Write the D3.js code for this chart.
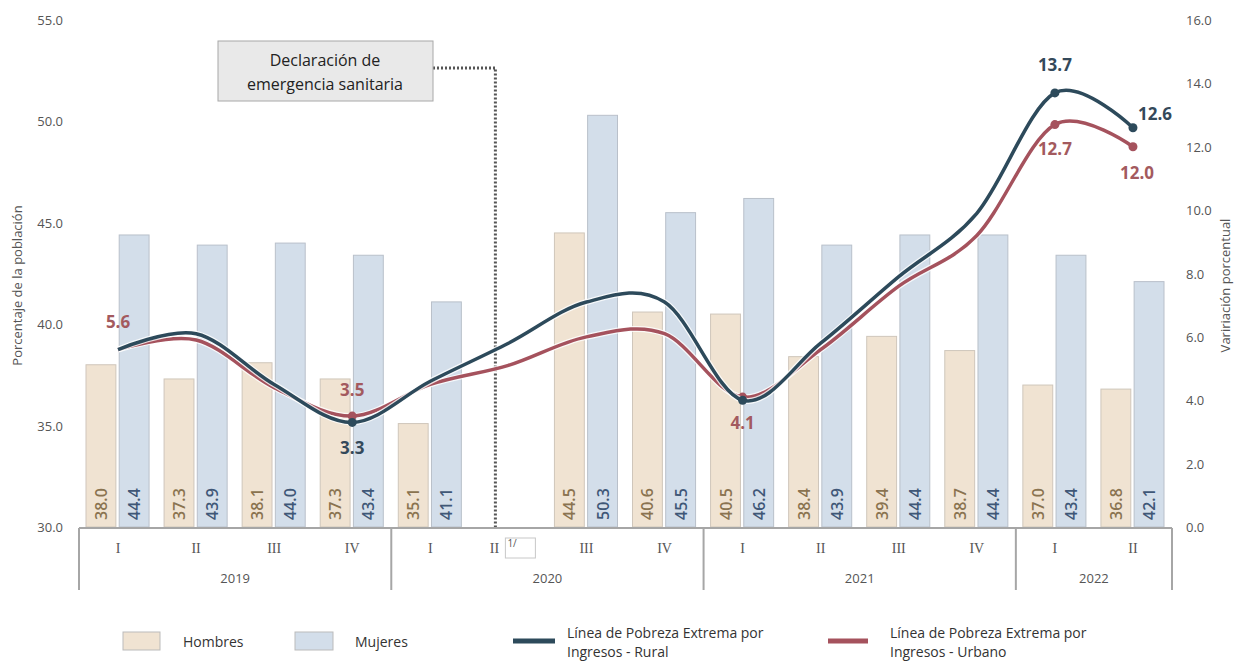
<!DOCTYPE html>
<html><head><meta charset="utf-8">
<script src="https://cdn.jsdelivr.net/npm/d3@7"></script>
<style>
body{margin:0;background:#fff;}
svg{display:block;font-family:"Open Sans","Noto Sans",sans-serif;}
</style></head>
<body>
<svg id="c" width="1244" height="662"></svg>
<script>
const quarters = ["I","II","III","IV","I","II","III","IV","I","II","III","IV","I","II"];
const years = ["2019","2020","2021","2022"];
const yearCounts = [4,4,4,2];
const hombres = [38.0,37.3,38.1,37.3,35.1,null,44.5,40.6,40.5,38.4,39.4,38.7,37.0,36.8];
const mujeres = [44.4,43.9,44.0,43.4,41.1,null,50.3,45.5,46.2,43.9,44.4,44.4,43.4,42.1];
const rural = [5.6,6.1,4.5,3.3,4.6,5.8,7.1,7.1,4.0,5.8,7.9,9.9,13.7,12.6];
const urbano = [5.6,5.9,4.4,3.5,4.5,5.1,6.0,6.1,4.1,5.6,7.6,9.2,12.7,12.0];
const leftTicks = [30,35,40,45,50,55];
const rightTicks = [0,2,4,6,8,10,12,14,16];
// labelled points: [series, index, text, dx, dy]
const lineLabels = [
  ["u",0,"5.6",0,-22],["u",3,"3.5",0,-20],["r",3,"3.3",0,32],["u",8,"4.1",0,32],
  ["r",12,"13.7",0,-22],["u",12,"12.7",0,30],["r",13,"12.6",22,-8],["u",13,"12.0",4,32]
];
const markerIdx = [3,8,12,13];

const svg = d3.select("#c");
const x0=79,x1=1172,yTop=20,yBot=527;
const idx = d3.range(quarters.length);
const x = d3.scaleBand().domain(idx).range([x0,x1]).padding(0);
const xs = d3.scaleBand().domain(["h","m"]).range([7,x.bandwidth()-8]).paddingInner(0.1);
const yL = d3.scaleLinear().domain([30,55]).range([yBot,yTop]);
const yR = d3.scaleLinear().domain([0,16]).range([yBot,yTop]);
const cx = i => x(i)+x.bandwidth()/2;

const cH="#f0e3d2", sH="#cfc6bb", cM="#d3deea", sM="#b9c0ca";
const cRural="#2d4a5b", cUrb="#a5525d";
const tH="#8a7350", tM="#3f5777";

// Bars
const barG = svg.append("g");
[["h",hombres,cH,sH,tH],["m",mujeres,cM,sM,tM]].forEach(([k,arr,fill,stroke,tc])=>{
  idx.forEach(i=>{
    const v=arr[i]; if(v==null) return;
    const bx=x(i)+xs(k), bw=xs.bandwidth();
    barG.append("rect").attr("x",bx).attr("y",yL(v)).attr("width",bw).attr("height",yBot-yL(v))
      .attr("fill",fill).attr("stroke",stroke).attr("stroke-width",1);
    barG.append("text").attr("transform",`translate(${bx+bw/2+6},${yBot-7}) rotate(-90)`)
      .attr("font-size",16).attr("font-weight",600).attr("fill",tc).text(v.toFixed(1));
  });
});

// Axes left/right tick labels
svg.append("g").selectAll("text").data(leftTicks).join("text")
  .attr("x",63).attr("y",d=>yL(d)+5).attr("text-anchor","end")
  .attr("font-size",13).attr("fill","#555").text(d=>d.toFixed(1));
svg.append("g").selectAll("text").data(rightTicks).join("text")
  .attr("x",1186).attr("y",d=>yR(d)+5).attr("text-anchor","start")
  .attr("font-size",13).attr("fill","#555").text(d=>d.toFixed(1));
svg.append("text").attr("transform",`translate(22,${(yTop+yBot)/2+12}) rotate(-90)`)
  .attr("text-anchor","middle").attr("font-size",13).attr("fill","#555").text("Porcentaje de la población");
svg.append("text").attr("transform",`translate(1230,${(yTop+yBot)/2+12}) rotate(-90)`)
  .attr("text-anchor","middle").attr("font-size",13).attr("fill","#555").text("Variriación porcentual");

// Category axis
const ax = svg.append("g").attr("stroke","#a6a6a6").attr("stroke-width",2);
ax.append("line").attr("x1",x0).attr("x2",x1).attr("y1",yBot+1).attr("y2",yBot+1);
let acc=0;
const bounds=[0];
yearCounts.forEach(c=>{acc+=c;bounds.push(acc);});
bounds.forEach(b=>{
  const bx = b<quarters.length ? x(b) : x1;
  ax.append("line").attr("x1",bx).attr("x2",bx).attr("y1",yBot+1).attr("y2",590);
});
svg.append("g").selectAll("text").data(idx).join("text")
  .attr("x",i=>i===5?cx(i)-14:cx(i)).attr("y",553).attr("text-anchor","middle")
  .attr("font-family","'Liberation Serif',serif").attr("font-size",14).attr("fill","#555")
  .text(i=>quarters[i]);
years.forEach((yv,k)=>{
  const a=x(bounds[k]), b=bounds[k+1]<quarters.length?x(bounds[k+1]):x1;
  svg.append("text").attr("x",(a+b)/2).attr("y",583).attr("text-anchor","middle")
    .attr("font-size",13).attr("fill","#555").text(yv);
});
// footnote box
svg.append("rect").attr("x",cx(5)-3).attr("y",538).attr("width",30).attr("height",20)
  .attr("fill","#fff").attr("stroke","#c8c8c8");
svg.append("text").attr("x",cx(5)-1).attr("y",547).attr("font-size",10).attr("fill","#555").text("1/");

// Annotation
const annX = cx(5)-13;
svg.append("path").attr("d",`M433,68 H${annX} V${yBot}`).attr("fill","none")
  .attr("stroke","#555").attr("stroke-width",3).attr("stroke-dasharray","2,2");
svg.append("rect").attr("x",218).attr("y",41).attr("width",215).attr("height",60)
  .attr("fill","#e9e9e9").attr("stroke","#a8a8a8");
svg.append("text").attr("x",325).attr("y",66).attr("text-anchor","middle").attr("font-size",16).attr("fill","#222").text("Declaración de");
svg.append("text").attr("x",325).attr("y",90).attr("text-anchor","middle").attr("font-size",16).attr("fill","#222").text("emergencia sanitaria");

// Lines
const line = d3.line().x((d,i)=>cx(i)).y(d=>yR(d)).curve(d3.curveCatmullRom.alpha(0));
[[urbano,cUrb],[rural,cRural]].forEach(([arr,col])=>{
  svg.append("path").attr("d",line(arr)).attr("fill","none").attr("stroke","#fff").attr("stroke-width",6).attr("opacity",0.8);
  svg.append("path").attr("d",line(arr)).attr("fill","none").attr("stroke",col).attr("stroke-width",3.5);
  markerIdx.forEach(i=>{
    svg.append("circle").attr("cx",cx(i)).attr("cy",yR(arr[i])).attr("r",4.5).attr("fill",col);
  });
});
lineLabels.forEach(([s,i,t,dx,dy])=>{
  const arr = s==="r"?rural:urbano;
  svg.append("text").attr("x",cx(i)+dx).attr("y",yR(arr[i])+dy).attr("text-anchor","middle")
    .attr("font-size",17).attr("font-weight",700).attr("fill",s==="r"?"#34495a":"#a35a5e").text(t);
});

// Legend
const lg = svg.append("g").attr("font-size",14).attr("fill","#333");
lg.append("rect").attr("x",123).attr("y",632).attr("width",37).attr("height",18).attr("fill",cH).attr("stroke","#bbb");
lg.append("text").attr("x",183).attr("y",647).text("Hombres");
lg.append("rect").attr("x",295).attr("y",632).attr("width",38).attr("height",18).attr("fill",cM).attr("stroke","#bbb");
lg.append("text").attr("x",355).attr("y",647).text("Mujeres");
lg.append("line").attr("x1",513).attr("x2",555).attr("y1",641).attr("y2",641).attr("stroke",cRural).attr("stroke-width",5);
lg.append("text").attr("x",567).attr("y",638).text("Línea de Pobreza Extrema por");
lg.append("text").attr("x",567).attr("y",657).text("Ingresos - Rural");
lg.append("line").attr("x1",828).attr("x2",868).attr("y1",641).attr("y2",641).attr("stroke",cUrb).attr("stroke-width",5);
lg.append("text").attr("x",890).attr("y",638).text("Línea de Pobreza Extrema por");
lg.append("text").attr("x",890).attr("y",657).text("Ingresos - Urbano");
</script>
</body></html>
